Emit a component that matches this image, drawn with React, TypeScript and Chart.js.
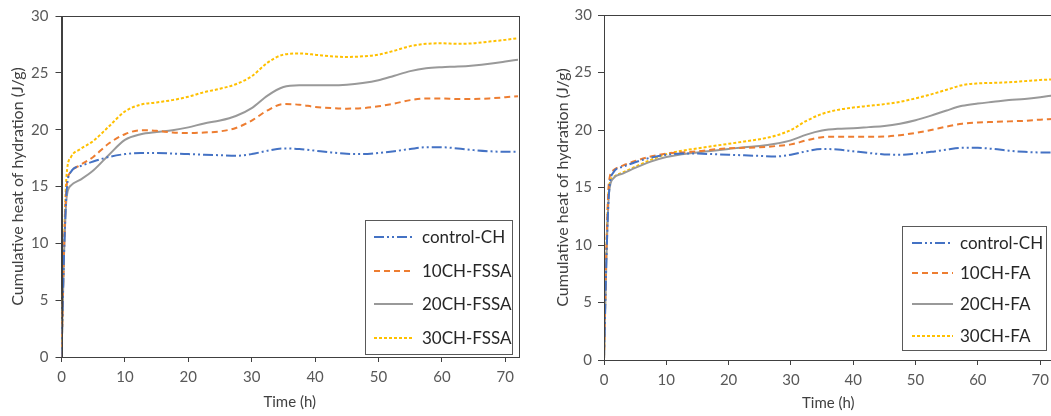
import React, { useEffect, useRef } from "react";
import { Chart, registerables } from "chart.js";

Chart.register(...registerables);

// ---------- data ----------
const timeH = [0, 0.4, 0.8, 1.5, 3, 5, 7.5, 10, 12.5, 15, 17.5, 20, 22.5, 25, 27.5, 30, 32.5, 35, 37.5, 40, 42.5, 45, 47.5, 50, 52.5, 55, 57.5, 60, 62.5, 65, 67.5, 70, 72];

const controlCH = [0, 9, 14.5, 16.3, 16.8, 17.2, 17.6, 17.85, 17.95, 17.95, 17.9, 17.85, 17.8, 17.75, 17.7, 17.85, 18.15, 18.35, 18.3, 18.15, 18.0, 17.88, 17.85, 17.95, 18.1, 18.3, 18.45, 18.45, 18.35, 18.2, 18.1, 18.05, 18.05];

const ch10FSSA = [0, 9.5, 15, 16.3, 16.9, 17.6, 18.8, 19.6, 19.95, 19.9, 19.75, 19.7, 19.75, 19.85, 20.15, 20.8, 21.7, 22.25, 22.2, 22.0, 21.9, 21.85, 21.9, 22.05, 22.3, 22.6, 22.75, 22.75, 22.7, 22.7, 22.75, 22.85, 22.95];
const ch20FSSA = [0, 9, 14, 15.1, 15.6, 16.4, 17.8, 19.1, 19.6, 19.8, 19.95, 20.2, 20.55, 20.8, 21.2, 21.9, 23.0, 23.75, 23.9, 23.9, 23.9, 23.95, 24.1, 24.35, 24.75, 25.15, 25.4, 25.5, 25.55, 25.65, 25.8, 26.0, 26.15];
const ch30FSSA = [0, 10, 16, 17.6, 18.3, 19.0, 20.3, 21.6, 22.2, 22.4, 22.6, 22.9, 23.3, 23.6, 24.0, 24.7, 25.9, 26.6, 26.7, 26.6, 26.45, 26.4, 26.45, 26.6, 26.95, 27.35, 27.55, 27.6, 27.55, 27.6, 27.75, 27.9, 28.05];

const ch10FA = [0, 10, 15.5, 16.5, 16.9, 17.3, 17.7, 17.95, 18.05, 18.15, 18.3, 18.4, 18.45, 18.5, 18.6, 18.75, 19.1, 19.38, 19.42, 19.42, 19.42, 19.43, 19.55, 19.75, 20.0, 20.3, 20.55, 20.65, 20.7, 20.75, 20.8, 20.9, 20.95];
const ch20FA = [0, 9, 14.5, 15.8, 16.2, 16.7, 17.25, 17.65, 17.9, 18.05, 18.2, 18.35, 18.5, 18.6, 18.8, 19.1, 19.6, 19.95, 20.1, 20.15, 20.25, 20.35, 20.55, 20.85, 21.25, 21.7, 22.1, 22.3, 22.45, 22.6, 22.7, 22.85, 23.0];
const ch30FA = [0, 10, 15, 15.9, 16.3, 16.8, 17.4, 17.9, 18.2, 18.4, 18.6, 18.8, 19.0, 19.2, 19.5, 20.0, 20.8, 21.4, 21.75, 21.95, 22.1, 22.25, 22.45, 22.75, 23.1, 23.5, 23.9, 24.05, 24.1, 24.15, 24.25, 24.35, 24.4];

const labelsFSSA = ["control-CH", "10CH-FSSA", "20CH-FSSA", "30CH-FSSA"];
const labelsFA = ["control-CH", "10CH-FA", "20CH-FA", "30CH-FA"];

const xTitle = "Time (h)";
const yTitle = "Cumulative heat of hydration (J/g)";
const xMin = 0;
const xMax = 72;
const xStep = 10;
const yMin = 0;
const yMax = 30;
const yStep = 5;

// ---------- styles ----------
const COLORS = ["#4472C4", "#ED7D31", "#999999", "#FFC000"];
const DASHES = [[10, 3, 2, 3, 2, 3], [6, 4], [], [3, 2]];
const WIDTHS = [2, 2, 2, 2];
const FONT = "Lato, 'Open Sans', sans-serif";
const AXIS_COLOR = "#404040";

const framePlugin = {
  id: "frame",
  afterDatasetsDraw(chart: any) {
    const { ctx, chartArea } = chart;
    ctx.save();
    ctx.strokeStyle = AXIS_COLOR;
    ctx.lineWidth = 1;
    ctx.strokeRect(
      Math.round(chartArea.left) + 0.5,
      Math.round(chartArea.top) + 0.5,
      Math.round(chartArea.right - chartArea.left),
      Math.round(chartArea.bottom - chartArea.top)
    );
    ctx.restore();
  },
};

const boxLegendPlugin = {
  id: "boxLegend",
  afterDraw(chart: any, _args: any, opts: any) {
    const { ctx } = chart;
    const { x, y, w, h, rows, lineX0, lineX1, textX, fontSize } = opts;
    ctx.save();
    ctx.fillStyle = "#ffffff";
    ctx.fillRect(x, y, w, h);
    ctx.strokeStyle = "#595959";
    ctx.lineWidth = 1;
    ctx.strokeRect(x + 0.5, y + 0.5, w, h);
    chart.data.datasets.forEach((ds: any, i: number) => {
      const yy = rows[i];
      ctx.beginPath();
      ctx.setLineDash(ds.borderDash || []);
      ctx.strokeStyle = ds.borderColor;
      ctx.lineWidth = ds.borderWidth;
      ctx.moveTo(lineX0, yy);
      ctx.lineTo(lineX1, yy);
      ctx.stroke();
      ctx.setLineDash([]);
      ctx.fillStyle = "#262626";
      ctx.font = `${fontSize}px ${FONT}`;
      ctx.textBaseline = "middle";
      ctx.textAlign = "left";
      ctx.fillText(ds.label, textX, yy + 1);
    });
    ctx.restore();
  },
};

function makeConfig(series: number[][], labels: string[], lay: any) {
  return {
    type: "line" as const,
    data: {
      datasets: series.map((vals, i) => ({
        label: labels[i],
        data: timeH.map((t, k) => ({ x: t, y: vals[k] })),
        borderColor: COLORS[i],
        backgroundColor: COLORS[i],
        borderDash: DASHES[i],
        borderWidth: WIDTHS[i],
        pointRadius: 0,
        fill: false,
        tension: 0.4,
        cubicInterpolationMode: "monotone" as const,
      })),
    },
    options: {
      responsive: false,
      animation: false as const,
      events: [],
      layout: { padding: { left: 0, top: lay.top, right: lay.right, bottom: 0 } },
      plugins: {
        legend: { display: false },
        tooltip: { enabled: false },
        boxLegend: lay.legend,
      },
      scales: {
        x: {
          type: "linear" as const,
          min: xMin,
          max: xMax,
          bounds: "data" as const,
          grid: { drawOnChartArea: false, drawTicks: true, tickLength: 5, color: AXIS_COLOR, tickColor: AXIS_COLOR },
          border: { display: true, color: AXIS_COLOR, width: 1 },
          ticks: { stepSize: xStep, includeBounds: false, padding: 6, color: "#595959", font: { family: FONT, size: 15 }, maxRotation: 0 },
          afterBuildTicks: (s: any) => {
            s.ticks = s.ticks.filter((t: any) => t.value % xStep === 0);
          },
          title: { display: true, text: xTitle, color: "#404040", font: { family: FONT, size: 15 }, padding: { top: 0, bottom: lay.xTitlePad } },
          afterFit: (s: any) => {
            s.height = lay.xH;
            s.paddingRight = 0;
            s.paddingLeft = 0;
          },
        },
        y: {
          type: "linear" as const,
          min: yMin,
          max: yMax,
          grid: { drawOnChartArea: false, drawTicks: true, tickLength: 6, color: AXIS_COLOR, tickColor: AXIS_COLOR },
          border: { display: true, color: AXIS_COLOR, width: 1 },
          ticks: { stepSize: yStep, padding: lay.yTickPad, color: "#595959", font: { family: FONT, size: 15 } },
          title: { display: true, text: yTitle, color: "#404040", font: { family: FONT, size: 16 }, padding: { top: lay.yTitlePad, bottom: 0 } },
          afterFit: (s: any) => { s.width = lay.yW; },
        },
      },
    },
    plugins: [framePlugin, boxLegendPlugin],
  };
}

function ChartCanvas(props: { series: number[][]; labels: string[]; lay: any; left: number; width: number }) {
  const ref = useRef<HTMLCanvasElement | null>(null);
  useEffect(() => {
    if (!ref.current) return;
    const chart = new Chart(ref.current, makeConfig(props.series, props.labels, props.lay) as any);
    return () => chart.destroy();
  }, []);
  return (
    <div style={{ position: "absolute", left: props.left, top: 0, width: props.width, height: 416 }}>
      <canvas ref={ref} width={props.width} height={416} style={{ display: "block" }} />
    </div>
  );
}

const layLeft = {
  top: 13,
  right: 12,
  xH: 59,
  yW: 61.5,
  yTickPad: 7,
  yTitlePad: 8.4,
  xTitlePad: 5,
  legend: { x: 365, y: 220, w: 147, h: 134, rows: [237, 271, 304, 338], lineX0: 374, lineX1: 413, textX: 422, fontSize: 17 },
};

const layRight = {
  top: 15,
  right: 7.4,
  xH: 56,
  yW: 74,
  yTickPad: 6,
  yTitlePad: 23.4,
  xTitlePad: 4,
  legend: { x: 372, y: 226, w: 144, h: 124, rows: [243, 273, 304, 336], lineX0: 382, lineX1: 423, textX: 430, fontSize: 17 },
};

export default function App() {
  return (
    <div style={{ position: "absolute", left: 0, top: 0, width: 1051, height: 416, overflow: "hidden", background: "#ffffff" }}>
      <ChartCanvas series={[controlCH, ch10FSSA, ch20FSSA, ch30FSSA]} labels={labelsFSSA} lay={layLeft} left={0} width={530} />
      <ChartCanvas series={[controlCH, ch10FA, ch20FA, ch30FA]} labels={labelsFA} lay={layRight} left={530} width={530} />
    </div>
  );
}
